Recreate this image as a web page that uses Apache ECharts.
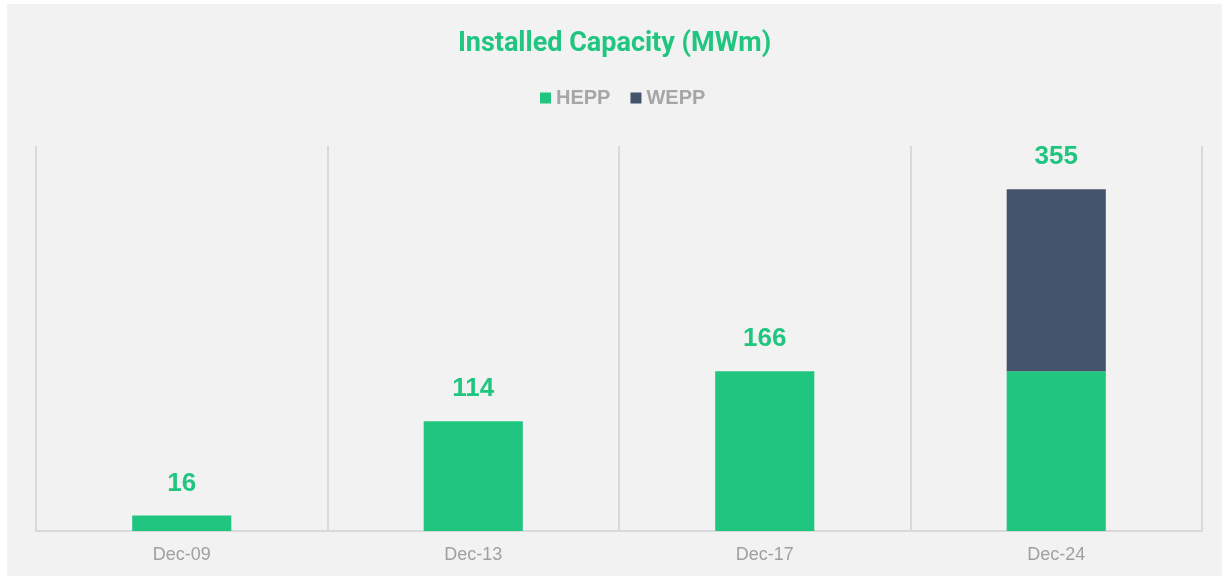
<!DOCTYPE html>
<html><head><meta charset="utf-8">
<script src="https://cdn.jsdelivr.net/npm/echarts@6/dist/echarts.min.js"></script>
<style>
html,body{margin:0;padding:0;background:#ffffff;}
#c{position:absolute;left:7px;top:4px;width:1215px;height:572px;background:#f2f2f2;}
</style></head>
<body><div id="c"></div>
<script>
const categories = ['Dec-09','Dec-13','Dec-17','Dec-24'];
const hepp = [16, 114, 166, 166];
const wepp = [0, 0, 0, 189];
const totals = [16, 114, 166, 355];

const chart = echarts.init(document.getElementById('c'));
chart.setOption({
  backgroundColor: '#f2f2f2',
  animation: false,
  title: {
    text: 'Installed Capacity (MWm)', left: 'center', top: 22,
    textStyle: {color: '#20c67f', fontSize: 27, fontWeight: 'bold', fontFamily: 'Roboto'}
  },
  legend: {
    top: 79, left: 528, itemWidth: 11, itemHeight: 11, itemGap: 20, icon: 'rect',
    textStyle: {color: '#a6a6a6', fontSize: 20, fontWeight: 'bold', fontFamily: 'Liberation Sans'},
    data: ['HEPP','WEPP']
  },
  grid: {left: 29, right: 20, top: 142, bottom: 45},
  xAxis: {
    type: 'category', data: categories, boundaryGap: true,
    axisLine: {show: true, lineStyle: {color: '#d9d9d9', width: 2}},
    axisTick: {show: false},
    splitLine: {show: true, interval: 0, lineStyle: {color: '#d9d9d9', width: 2}},
    axisLabel: {color: '#a0a0a0', fontSize: 18, fontFamily: 'Liberation Sans', margin: 15}
  },
  yAxis: {type: 'value', min: 0, max: 400, show: false, splitLine: {show: false}},
  series: [
    {name: 'HEPP', type: 'bar', stack: 'a', data: hepp, barWidth: '34%',
     itemStyle: {color: '#20c67f'}},
    {name: 'WEPP', type: 'bar', stack: 'a', data: wepp, barWidth: '34%',
     itemStyle: {color: '#43536b'},
     label: {show: true, position: 'top', distance: 19,
       formatter: p => totals[p.dataIndex],
       color: '#20c67f', fontSize: 26, fontWeight: 'bold', fontFamily: 'Liberation Sans'}}
  ]
});
</script></body></html>
